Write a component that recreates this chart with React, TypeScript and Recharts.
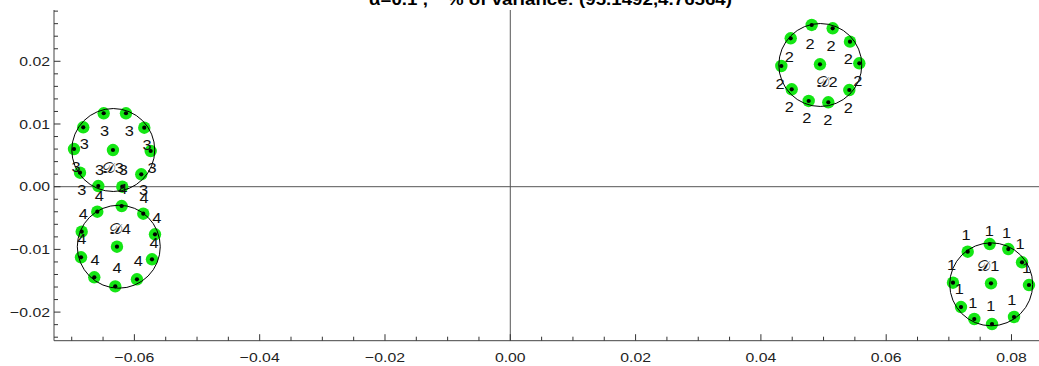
import React from 'react';
import { ScatterChart, Scatter, XAxis, YAxis, ReferenceLine } from 'recharts';

document.body.style.margin = '0';

const W = 1039;
const H = 366;
const X_DOMAIN: [number, number] = [-0.07283, 0.08439];
const Y_DOMAIN: [number, number] = [-0.02456, 0.02818];

const xMajorTicks = [-0.06, -0.04, -0.02, 0, 0.02, 0.04, 0.06, 0.08];
const yMajorTicks = [-0.02, -0.01, 0, 0.01, 0.02];
const xMinorStep = 0.005;
const yMinorStep = 0.002;

const titleLeft = 'α=0.1 ,';
const titleRight = '% of variance: (95.1492,4.76564)';

// cluster 1
const cluster1Points = [[0.07652, -0.00914], [0.07301, -0.01037], [0.07949, -0.00994], [0.08168, -0.01206], [0.07066, -0.01531], [0.08279, -0.01568], [0.07673, -0.01541], [0.07194, -0.01919], [0.0804, -0.02078], [0.07406, -0.0211], [0.07689, -0.0219]];
const cluster1Labels = [[0.07274, -0.0077], [0.07646, -0.00702], [0.07923, -0.00734], [0.08136, -0.00914], [0.08242, -0.01301], [0.07045, -0.01249], [0.07167, -0.01636], [0.07381, -0.0185], [0.07668, -0.01903], [0.08003, -0.01807]];
const cluster1Name = [0.0763, -0.01265];
const cluster1Circle = [0.07676, -0.01557];

// cluster 2
const cluster2Points = [[0.04811, 0.02579], [0.05146, 0.02526], [0.04476, 0.02367], [0.05422, 0.02313], [0.04326, 0.01925], [0.05571, 0.01968], [0.04943, 0.01952], [0.04492, 0.01553], [0.05411, 0.01542], [0.04763, 0.01367], [0.05076, 0.01346]];
const cluster2Labels = [[0.04784, 0.02271], [0.05119, 0.02244], [0.04453, 0.02073], [0.05395, 0.02032], [0.04305, 0.01638], [0.05545, 0.01686], [0.04453, 0.01266], [0.05395, 0.0125], [0.04731, 0.01091], [0.05066, 0.01064]];
const cluster2Name = [0.0505, 0.01675];
const cluster2Circle = [0.04948, 0.01941];

// cluster 3
const cluster3Points = [[-0.0649, 0.01171], [-0.06134, 0.01171], [-0.06816, 0.00947], [-0.05842, 0.00941], [-0.06964, 0.00601], [-0.06342, 0.00585], [-0.0574, 0.00569], [-0.06868, 0.00223], [-0.0589, 0.00198], [-0.06576, 0.00011], [-0.06193, 0.0]];
const cluster3Labels = [[-0.06477, 0.00896], [-0.06083, 0.00896], [-0.06801, 0.00681], [-0.05799, 0.00665], [-0.06932, 0.00322], [-0.06557, 0.00274], [-0.06177, 0.00266], [-0.05719, 0.00295], [-0.06841, -0.00045], [-0.05852, -0.00057]];
const cluster3Name = [-0.06342, 0.00298];
const cluster3Circle = [-0.06337, 0.00585];

// cluster 4
const cluster4Points = [[-0.06203, -0.00308], [-0.06592, -0.00399], [-0.05858, -0.00431], [-0.06841, -0.00718], [-0.05671, -0.00759], [-0.06278, -0.00957], [-0.06852, -0.01126], [-0.05719, -0.01158], [-0.0664, -0.01445], [-0.05959, -0.01477], [-0.06305, -0.01589]];
const cluster4Labels = [[-0.0656, -0.00148], [-0.06185, -0.00037], [-0.05847, -0.00177], [-0.06816, -0.00435], [-0.05644, -0.00494], [-0.06841, -0.00834], [-0.05687, -0.00903], [-0.06629, -0.01169], [-0.05938, -0.0118], [-0.06278, -0.01301]];
const cluster4Name = [-0.0623, -0.00675];
const cluster4Circle = [-0.06249, -0.00957];

const clusterIds = ['1', '2', '3', '4'];
const circleRadius = 0.00662;

const clusters = [
  { id: clusterIds[0], points: cluster1Points, labels: cluster1Labels, name: cluster1Name, circle: cluster1Circle },
  { id: clusterIds[1], points: cluster2Points, labels: cluster2Labels, name: cluster2Name, circle: cluster2Circle },
  { id: clusterIds[2], points: cluster3Points, labels: cluster3Labels, name: cluster3Name, circle: cluster3Circle },
  { id: clusterIds[3], points: cluster4Points, labels: cluster4Labels, name: cluster4Name, circle: cluster4Circle },
];

const MARGIN = { top: 10, right: 0, bottom: 0, left: 0 };
const LEFT_W = 54;
const BOTTOM_H = 25.3;
const plotW = W - MARGIN.left - MARGIN.right - LEFT_W;
const pxPerUnit = plotW / (X_DOMAIN[1] - X_DOMAIN[0]);

const xTicks: number[] = [];
for (let i = -14; i <= 16; i++) xTicks.push(+(i * xMinorStep).toFixed(4));
const yTicks: number[] = [];
for (let i = -12; i <= 14; i++) yTicks.push(+(i * yMinorStep).toFixed(4));

const isIn = (arr: number[], v: number) => arr.some((m) => Math.abs(m - v) < 1e-7);
const fmt = (v: number) => {
  const s = Math.abs(v).toFixed(2);
  return v < -1e-9 ? '\u2212' + s : s;
};

const FONT = '"Liberation Sans", Arial, Helvetica, sans-serif';
const SX = 1.17;
const TICK_COLOR = '#333';
const FRAME = '#444';
const MAJOR = 6.5;
const MINOR = 4;

const BottomTick = (p: any) => {
  const { x, y, payload } = p;
  const major = isIn(xMajorTicks, payload.value);
  return (
    <g>
      <line x1={x} y1={y} x2={x} y2={y - (major ? MAJOR : MINOR)} stroke={TICK_COLOR} strokeWidth={1} />
      {major && (
        <text transform={`translate(${x},${y + 21}) scale(${SX},1)`} textAnchor="middle" fontSize={13.5} fontFamily={FONT} fill="#222">
          {fmt(payload.value)}
        </text>
      )}
    </g>
  );
};
const TopTick = (p: any) => {
  const { x, y, payload } = p;
  const major = isIn(xMajorTicks, payload.value);
  return <line x1={x} y1={y} x2={x} y2={y + (major ? MAJOR : MINOR)} stroke={TICK_COLOR} strokeWidth={1} />;
};
const LeftTick = (p: any) => {
  const { x, y, payload } = p;
  const major = isIn(yMajorTicks, payload.value);
  return (
    <g>
      <line x1={x} y1={y} x2={x + (major ? MAJOR : MINOR)} y2={y} stroke={TICK_COLOR} strokeWidth={1} />
      {major && (
        <text transform={`translate(${x - 4},${y + 4.8}) scale(${SX},1)`} textAnchor="end" fontSize={13.5} fontFamily={FONT} fill="#222">
          {fmt(payload.value)}
        </text>
      )}
    </g>
  );
};
const RightTick = (p: any) => {
  const { x, y, payload } = p;
  const major = isIn(yMajorTicks, payload.value);
  return <line x1={x} y1={y} x2={x - (major ? MAJOR : MINOR)} y2={y} stroke={TICK_COLOR} strokeWidth={1} />;
};

const PointShape = (p: any) => (
  <g>
    <circle cx={p.cx} cy={p.cy} r={6.2} fill="#14e614" />
    <circle cx={p.cx} cy={p.cy} r={2.1} fill="#000" />
  </g>
);
const CircleShape = (p: any) => (
  <circle cx={p.cx} cy={p.cy} r={circleRadius * pxPerUnit} fill="none" stroke="#000" strokeWidth={1} />
);
const LabelShape = (p: any) => (
  <text
    transform={`translate(${p.cx},${p.cy}) scale(${SX},1)`}
    dy="0.36em"
    textAnchor="middle"
    fontSize={14}
    fontFamily={FONT + ', "DejaVu Sans", "DejaVu Serif"'}
    fill="#111"
  >
    {p.payload.text}
  </text>
);

export default function App() {
  return (
    <div style={{ position: 'relative', width: W, height: H }}>
      <ScatterChart width={W} height={H} margin={MARGIN}>
        <XAxis
          xAxisId="b"
          type="number"
          dataKey="x"
          domain={X_DOMAIN}
          allowDataOverflow
          ticks={xTicks}
          interval={0}
          tickSize={0}
          tickMargin={0}
          tickLine={false}
          tick={<BottomTick />}
          axisLine={{ stroke: FRAME }}
          height={BOTTOM_H}
          orientation="bottom"
        />
        <XAxis
          xAxisId="t"
          type="number"
          dataKey="x"
          domain={X_DOMAIN}
          allowDataOverflow
          ticks={xTicks}
          interval={0}
          tickSize={0}
          tickMargin={0}
          tickLine={false}
          tick={<TopTick />}
          axisLine={{ stroke: FRAME }}
          height={0}
          orientation="top"
        />
        <YAxis
          yAxisId="l"
          type="number"
          dataKey="y"
          domain={Y_DOMAIN}
          allowDataOverflow
          ticks={yTicks}
          interval={0}
          tickSize={0}
          tickMargin={0}
          tickLine={false}
          tick={<LeftTick />}
          axisLine={{ stroke: FRAME }}
          width={LEFT_W}
          orientation="left"
        />
        <YAxis
          yAxisId="r"
          type="number"
          dataKey="y"
          domain={Y_DOMAIN}
          allowDataOverflow
          ticks={yTicks}
          interval={0}
          tickSize={0}
          tickMargin={0}
          tickLine={false}
          tick={<RightTick />}
          axisLine={{ stroke: FRAME }}
          width={0}
          orientation="right"
        />
        <ReferenceLine xAxisId="b" yAxisId="l" x={0} stroke="#555" strokeWidth={1} />
        <ReferenceLine xAxisId="b" yAxisId="l" y={0} stroke="#555" strokeWidth={1} />
        {clusters.map((c) => (
          <Scatter
            key={'p' + c.id}
            xAxisId="b"
            yAxisId="l"
            data={c.points.map(([x, y]) => ({ x, y }))}
            shape={<PointShape />}
            isAnimationActive={false}
          />
        ))}
        {clusters.map((c) => (
          <Scatter
            key={'c' + c.id}
            xAxisId="b"
            yAxisId="l"
            data={[{ x: c.circle[0], y: c.circle[1] }]}
            shape={<CircleShape />}
            isAnimationActive={false}
          />
        ))}
        {clusters.map((c) => (
          <Scatter
            key={'l' + c.id}
            xAxisId="b"
            yAxisId="l"
            data={[
              ...c.labels.map(([x, y]) => ({ x, y, text: c.id })),
              { x: c.name[0], y: c.name[1], text: '\u{1D49F}' + c.id },
            ]}
            shape={<LabelShape />}
            isAnimationActive={false}
          />
        ))}
      </ScatterChart>
      <svg width={W} height={20} style={{ position: 'absolute', left: 0, top: 0, pointerEvents: 'none' }}>
        <text transform={`translate(369,5) scale(${SX},1)`} textAnchor="start" fontSize={16} fontWeight="bold" fontFamily={FONT} fill="#000">
          {titleLeft}
        </text>
        <text transform={`translate(732,5) scale(${SX},1)`} textAnchor="end" fontSize={16} fontWeight="bold" fontFamily={FONT} fill="#000">
          {titleRight}
        </text>
      </svg>
    </div>
  );
}
